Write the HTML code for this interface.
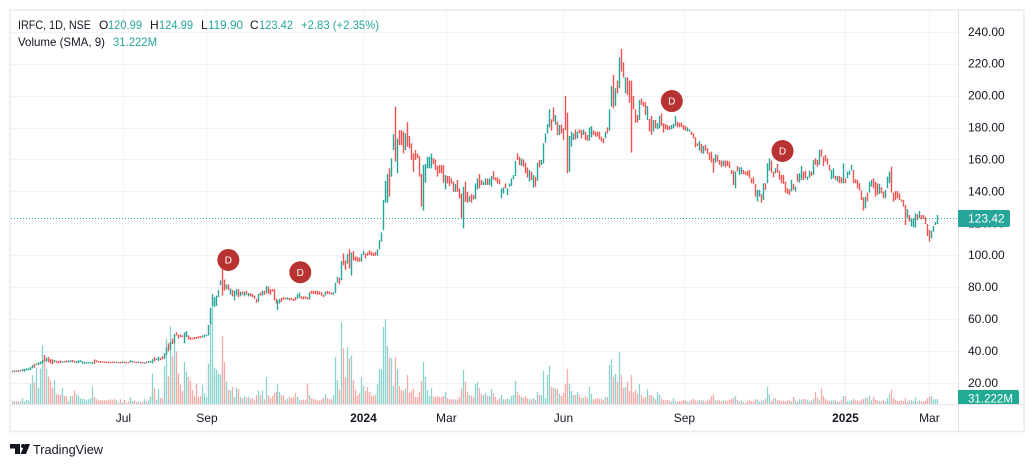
<!DOCTYPE html>
<html lang="en">
<head>
<meta charset="utf-8">
<title>IRFC 1D NSE chart</title>
<style>
html,body{margin:0;padding:0;background:#fff;width:1034px;height:467px;overflow:hidden}
svg{display:block;position:absolute;left:0;top:0}
text{font-family:"Liberation Sans",sans-serif;font-size:12px;fill:#131722}
.t{fill:#26a69a}
</style>
</head>
<body>
<svg id="chart" width="1034" height="467" viewBox="0 0 1034 467" xmlns="http://www.w3.org/2000/svg">
  <rect x="10" y="10" width="1014" height="421.5" fill="#fff" stroke="#e9ebf1" stroke-width="1.6"/>
  <g id="grid"></g>
  <g id="volumesG"></g>
  <g id="candlesG"></g>
  <line id="lastLine" x1="11" x2="958" stroke="#26a69a" stroke-width="1" stroke-dasharray="1 2"/>
  <g id="markersG"></g>
  <line x1="958.5" x2="958.5" y1="11" y2="431" stroke="#e0e3eb"/>
  <line x1="11" x2="1023" y1="404.5" y2="404.5" stroke="#e0e3eb"/>
  <g id="priceAxis"></g>
  <g id="timeAxis"></g>

  <path id="lastTag" d="M958 210H1008a2 2 0 0 1 2 2V225a2 2 0 0 1-2 2H958Z" fill="#26a69a"/>
  <text id="lastTagText" x="968" y="222.5" style="fill:#fff"></text>
  <path id="volTag" d="M958 390H1017a2 2 0 0 1 2 2V404H958Z" fill="#22ab94"/>
  <text id="volTagText" x="968" y="402.5" style="fill:#fff" textLength="45" lengthAdjust="spacingAndGlyphs"></text>

  <g>
    <text x="18" y="29" textLength="73" lengthAdjust="spacingAndGlyphs">IRFC, 1D, NSE</text>
    <text x="99" y="29">O</text>
    <text x="108" y="29" class="t" textLength="34" lengthAdjust="spacingAndGlyphs">120.99</text>
    <text x="150" y="29">H</text>
    <text x="159" y="29" class="t" textLength="34" lengthAdjust="spacingAndGlyphs">124.99</text>
    <text x="201" y="29">L</text>
    <text x="208" y="29" class="t" textLength="35" lengthAdjust="spacingAndGlyphs">119.90</text>
    <text x="250" y="29">C</text>
    <text x="259" y="29" class="t" textLength="34" lengthAdjust="spacingAndGlyphs">123.42</text>
    <text x="301" y="29" class="t" textLength="78" lengthAdjust="spacingAndGlyphs">+2.83 (+2.35%)</text>
    <text x="18" y="46" textLength="87" lengthAdjust="spacingAndGlyphs">Volume (SMA, 9)</text>
    <text x="113" y="46" class="t" textLength="44" lengthAdjust="spacingAndGlyphs">31.222M</text>
  </g>

  <g>
    <path d="M10 444H20V454H15V448.5H10Z" fill="#131722"/>
    <circle cx="23" cy="446" r="2" fill="#131722"/>
    <path d="M25 444H30L26 454H20.5Z" fill="#131722"/>
    <text x="33" y="454" style="font-size:13px" textLength="70" lengthAdjust="spacingAndGlyphs">TradingView</text>
  </g>
</svg>
<script>
const highs = [
28,28.1,28.1,28.1,28.3,29,29,29.4,29.4,30.2,
31.5,32.3,32.5,33.1,33.6,34.6,37.7,36,36.5,35.2,
35,34.6,34.2,34,34.3,33.9,34,34.4,34.3,34.5,
34.6,34.2,34,34.4,34.5,33.9,33.4,33.3,33.3,33.4,
33.2,35,34.5,34,34,33.8,33.8,33.6,33.6,33.4,
33.6,33.7,33.6,33.4,33.4,33.8,33.5,33.4,33.5,34.5,
34,33.7,33.5,33.7,33.4,33.3,33.2,33.5,34,34,
35.2,36.5,35.6,36.7,36,37,38.8,42.3,45,46,
48,51,52,50.5,50.5,50,52,52.7,50,49,
48.5,49,49.2,49.6,49.6,50,50.5,50.5,56.5,67,
76,74,75,78.5,84.5,92,85,82,82,79.5,
78.5,78,79,79,77.5,77.5,77.5,78,76.5,76.5,
76,75,73,76,77,78,78,81,80.5,79,
79,79,73,72,73,73.5,74,73.5,74,73.5,
73.5,73,74,76,77,74.5,74.5,74.5,74,77,
78,78,78,78,77.5,77,75.5,77.5,78,
77.5,77,77,83,86.8,86,96.6,101.4,97,101,
104,102,103,99.4,99.4,98.7,101,103,101.4,102,
103.5,102.5,101.8,102.5,104,109.8,114.6,135,146.8,151.2,
154.7,161,176.2,193.4,173.5,178.7,178.7,177.7,176.6,183.7,
175,170.4,164.1,166.2,164,162.4,151.2,156.8,157.4,162,
162,164,161,160.3,156.2,156.8,156.8,156.8,150.5,149.9,
149.9,148.4,146.4,144.9,147.4,142.2,139,143.2,146.4,140,
137.4,138.6,138,145.3,148.4,151.2,147.4,146.4,148.4,148.4,
148.4,149.9,153,149.1,149.1,147.8,142.2,142.8,145.3,142.2,
145.3,148.4,150.5,159.3,164.1,162,161,160.3,158.3,155.3,
153.7,152.6,150.5,149.5,158.3,160,160,170.4,176.6,182.5,
191.7,185.4,192.9,188.1,184,181.9,182.3,179.8,200,189.6,
175,177.7,176.6,179.1,177.7,179.1,178.7,179.1,177.7,175.6,
180.4,181.2,178.7,177.7,177.7,177.7,174.6,173.5,177.7,180.4,
191.7,206.4,213.3,204.9,209.7,224.3,229.6,221.2,211.8,211.8,
209.7,209.7,200.1,191.7,188.2,197.6,198.6,196.6,196.1,193.8,
185.7,187.6,185,185,183,187.6,189.2,183,182.6,181.9,
181.3,181.9,182.6,187.6,184,183.4,183.4,181.9,181.3,180.5,
179.2,177.8,176.7,174.2,170.4,171.9,170,168.8,169.4,167.3,
164.6,165.2,161,163.5,163.1,160,159.6,159.6,159.6,159.6,
159,153.7,153.3,152.7,156.2,155.4,155.4,153.7,152.7,153.3,
153.7,148.5,149.1,145,141.2,141.2,138.7,145.4,145.4,157.9,
161,159.6,152.7,154.8,157.5,153.3,150.6,150.6,146.4,142.2,
141.6,147.5,145,143.3,151.2,151.6,156.2,152.7,153.3,149.5,
153.3,152.7,160,161,160,166.3,166.7,162.1,163.1,161,
156.9,153.7,154.8,150,150,150,149.1,157.9,148.5,152.7,
153.3,156.9,153.7,147.9,147.5,145.4,140.8,136.6,137,139.5,
146.4,147.5,148.5,146.4,145.4,145,142.9,140.2,141.2,149.5,
152.7,155.8,139.5,140.5,140.5,139,135.3,134.9,131.7,129,
125.5,123.4,123.4,126.5,125.9,128,125.5,125.5,124.4,119.8,
116.1,115.6,118.6,121.3,125.5
];
const lows = [
26.9,27.1,27.3,27.1,27.3,27.7,27.3,28.1,28.1,28.3,
29.4,29.8,31.5,31.5,31.9,32.5,33.6,33.6,33.1,32.5,
31.9,33.1,32.9,32.5,32.7,32.9,33,33.1,33,33.3,
33.2,33,32.6,32.6,33.4,32.3,32.2,32.3,32.5,32.5,
32,32.2,33.2,33,32.9,32.9,32.8,32.8,32.9,32.8,
32.9,32.9,32.8,32.7,32.7,32.6,32.7,32.7,32.6,33,
33,32.9,32.7,32.7,32.5,32.4,32.3,32.4,32.9,32.9,
32.5,33.6,34.6,34,34.5,35,35.2,37.7,40,41,
44.6,45,50,48,49,49,45,49,47.5,47.2,
47.6,47.6,47.9,48.2,48.2,48.7,48.8,49.6,50,57,
68,68,68.5,74,81.5,75,78,79,78.5,75.5,
74.5,72,75,74,74.5,75.5,74.5,75.5,74.5,74.5,
74,73,70.5,71,75,75,75.5,76.5,76,75.5,
77.5,72,70,66,70,71,72.5,72.5,72.5,72,
72.2,71.5,72,73,73.5,73,72.5,73,72.5,72.5,
76,76,76,75.5,75.5,75,74,75,76,
76,75.5,75.5,76.5,83,82,84.7,94,91,95,
92,87.5,97,96.8,96.2,96.2,96.2,100.4,98.3,100,
100.4,100,99.8,100,100,104,108.8,116,133.2,133.2,
137,149.5,166.2,158.9,151.6,169.3,169.3,164.1,166.2,168.3,
167.2,160,152.6,160,161,149.5,130.7,128.2,145.7,154.7,
154.7,154.7,157.4,153.7,149.5,151.6,151.6,145.7,141.5,145.3,
143.6,145.3,140,140,140,135.9,123.4,117.1,133.8,133.2,
133.8,133.2,135.3,135.3,141.5,142.2,144.3,144.3,144.3,144.3,
144.3,143.2,147.8,147,145.3,144.7,135.9,139,142.2,138,
143.2,143.6,147.8,149.9,160,156.8,156.2,155.8,151.6,149,
146.4,147.4,142.6,143.2,147,155.3,156.8,157.8,170.8,176.6,
180.4,178.3,184,181.9,175.6,175.6,176.6,172.5,178.7,151.6,
152.6,168.3,172.5,172.9,173.5,176.6,173.5,175.6,172.5,172,
172,174.1,175.6,174.6,174.6,172.9,171.4,170.4,173.5,176.6,
178.3,193.4,192.4,193.8,201.8,204.9,215.4,211.6,201.8,200.7,
195.9,164.6,191.7,183.4,183.4,185,194.5,193.4,188.2,185,
177.8,175.7,177.8,179.8,179.2,179.8,181.3,177.1,179.2,178.8,
178.8,179.2,179.8,181.3,180.5,180.5,180.5,178.8,178.4,177.8,
177.8,175.7,173.6,167.9,168.8,165.8,164.2,163.8,165.8,163.8,
160,158.3,152,158.3,159,156.9,155.4,156.2,155.4,156.2,
154.8,151.2,144.3,142.2,152.7,150.6,151.2,151,150.6,150,
148.5,145.4,145,137,133.9,137,133.3,134.9,141.2,145.4,
153.3,152,149.1,151.6,152,147.5,145.4,145,139.5,138.7,
138,140.2,141.2,140.2,146.4,145.8,147.5,147.5,148.5,147.5,
148.9,150,150.6,156.9,155.8,156.9,162.1,156.2,159,156.9,
153.3,147.9,148.5,147.5,146.4,145.4,145.4,145.4,145.4,148.5,
150.6,153.3,145.4,145.4,142.2,140.8,134.9,128.2,129.7,133.9,
139.5,143.3,142.2,137,138.1,138.7,139.1,136,136,142.2,
145.4,139.5,133.8,134.9,135.9,134.9,133.8,130.7,119.2,123.4,
121.3,118.2,117.7,117.7,122.3,123.4,122.9,122.9,119.8,112.3,
108.8,110.8,115,119.2,119.8
];
const upDays = [
"0101011111","1011110100","0100010011","0011111111","1000000000",
"0010010001","1001001011","1011001101","0100001100","0000011111",
"1111100101","0110101010","0001010100","0001100010","0001100001",
"000000010","0011101001","0100001100","0000111111","0110100010",
"0000000111","1100000010","0001000100","1001100110","1100001101",
"1111001000","1010101111","1001010000","1110100100","1100000010",
"1101010010","0000010001","0010110000","0111000001","1000010100",
"0001000100","0001011000","0000110101","1001000000","0101011001",
"1010010000","0110100101","1100000010","1100010011","1000000001",
"0111010000","01111"
].join("");
const volumes = [
18,18,18,18,18,36,18,28,24,124,
174,130,220,100,214,354,260,214,166,144,
100,144,60,56,60,96,50,50,20,50,
50,84,60,50,36,32,32,24,30,36,
106,44,30,24,24,24,24,24,24,30,
24,34,24,10,30,12,26,10,18,40,
20,24,14,20,12,16,32,20,24,48,
184,96,28,90,40,36,228,394,168,468,
288,394,318,184,120,80,254,194,164,140,
84,50,124,44,50,118,64,44,244,580,
580,218,208,184,180,408,254,138,84,84,
104,44,100,94,44,38,48,38,48,34,
38,24,54,84,54,84,30,164,54,38,
50,68,74,120,74,54,54,24,34,44,
38,44,68,44,24,24,28,24,124,54,
34,34,28,24,24,28,38,60,38,
30,30,54,282,146,90,492,336,162,342,
276,294,144,86,54,66,162,108,80,102,
74,50,50,58,120,210,210,464,510,350,
282,278,110,282,210,110,86,80,94,176,
70,80,94,44,44,74,140,254,164,86,
50,96,44,44,50,44,44,50,74,38,
30,30,30,30,30,44,96,206,134,74,
56,50,44,122,134,96,60,56,66,50,
50,92,66,44,24,38,56,30,30,36,
30,50,56,140,74,56,44,38,50,36,
30,30,38,24,74,56,56,200,36,176,
230,104,100,96,92,64,50,68,122,212,
122,80,56,56,74,56,38,38,50,38,
104,62,30,32,38,32,32,24,44,44,
236,270,164,182,134,314,176,100,104,134,
80,176,74,86,64,122,56,36,44,92,
56,56,44,30,74,56,36,24,24,24,
24,18,36,18,18,18,20,24,24,18,
18,28,32,24,20,28,24,24,18,24,
30,50,60,24,24,24,18,24,24,20,
28,32,40,50,26,18,24,16,10,18,
28,18,18,28,30,18,24,24,32,104,
60,20,36,36,24,24,18,24,18,24,
24,18,44,24,18,32,24,32,32,24,
18,24,32,74,40,24,96,50,32,24,
20,24,24,24,18,16,24,50,50,18,
20,24,32,24,24,18,28,32,40,36,
54,24,44,28,24,20,20,24,18,36,
60,86,40,24,20,18,24,20,36,18,
24,24,20,40,18,24,18,18,24,36,
48,48,30,30,31.222
];
const priceTicks = [240,220,200,180,160,140,120,100,80,60,40,20];
const timeLabels = ["Jul","Sep","2024","Mar","Jun","Sep","2025","Mar"];
const timeIndexes = [55.9,97.7,176,217.5,276.1,336.6,417.2,459.2];
const timeBold = [false,false,true,false,false,false,true,false];
const markerIndexes = [108.4,144.4,330.3,385.7];
const markerPrices = [97.3,89.6,196.9,165.6];
const lastClose = 123.42;
const lastVolume = 31.222;

const NS = "http://www.w3.org/2000/svg";
const xScale = i => 11.7 + i * (925.3 / (highs.length - 1));
const yScale = p => 383.3 - (p - 20) * 1.5955;
const volY = v => 404.3 - v / 6;
const fmt = p => p.toFixed(2);
const make = tag => document.createElementNS(NS, tag);
const attrs = (el, o) => { for (const k in o) el.setAttribute(k, o[k]); return el; };

const grid = document.getElementById("grid");
priceTicks.forEach(p => {
  const l = attrs(make("line"), {x1:11, x2:958, y1:Math.floor(yScale(p)) + 0.5, y2:Math.floor(yScale(p)) + 0.5, stroke:"#f1f2f5", "stroke-width":1});
  
  
  grid.appendChild(l);
});
timeIndexes.forEach(i => {
  const l = attrs(make("line"), {x1:Math.floor(xScale(i)) + 0.5, x2:Math.floor(xScale(i)) + 0.5, y1:11, y2:404, stroke:"#f1f2f5", "stroke-width":1});
  
  
  grid.appendChild(l);
});

const volG = document.getElementById("volumesG");
volumes.forEach((v, i) => {
  const up = upDays[i] === "1";
  const r = attrs(make("rect"), {x:Math.round(xScale(i)) - 0.15, y:volY(v), width:1.3, height:404.3 - volY(v), fill: up ? "#8cd3cc" : "#f7a9a7"});
  
  
  volG.appendChild(r);
});

const candG = document.getElementById("candlesG");
highs.forEach((h, i) => {
  const up = upDays[i] === "1";
  const r = attrs(make("rect"), {x:Math.round(xScale(i)) - 0.2, y:yScale(h), width:1.4, height:Math.max(1.5, yScale(lows[i]) - yScale(h)), fill: up ? "#26a69a" : "#ef5350"});
  
  
  candG.appendChild(r);
});

const last = document.getElementById("lastLine");
last.setAttribute("y1", Math.floor(yScale(lastClose)) + 0.5);
last.setAttribute("y2", Math.floor(yScale(lastClose)) + 0.5);
document.getElementById("lastTagText").textContent = fmt(lastClose);
document.getElementById("volTagText").textContent = lastVolume.toFixed(3) + "M";

const mk = document.getElementById("markersG");
markerIndexes.forEach((idx, k) => {
  const cx = xScale(idx), cy = yScale(markerPrices[k]);
  const c = attrs(make("circle"), {cx:cx, cy:cy, r:11, fill:"#b83232"});
  
  
  mk.appendChild(c);
  const t = attrs(make("text"), {x:cx, y:cy + 3.5, "text-anchor":"middle", style:"fill:#fff;font-size:10px"});
  
  
  t.textContent = "D";
  mk.appendChild(t);
});

const pa = document.getElementById("priceAxis");
priceTicks.forEach(p => {
  const t = attrs(make("text"), {x:968, y:yScale(p) + 3.5});
  
  
  t.textContent = fmt(p);
  pa.appendChild(t);
});

const ta = document.getElementById("timeAxis");
timeLabels.forEach((s, k) => {
  const t = attrs(make("text"), {x:xScale(timeIndexes[k]), y:422, "text-anchor":"middle", "font-weight": timeBold[k] ? "bold" : "normal"});
  
  
  t.textContent = s;
  ta.appendChild(t);
});
</script>
</body>
</html>
